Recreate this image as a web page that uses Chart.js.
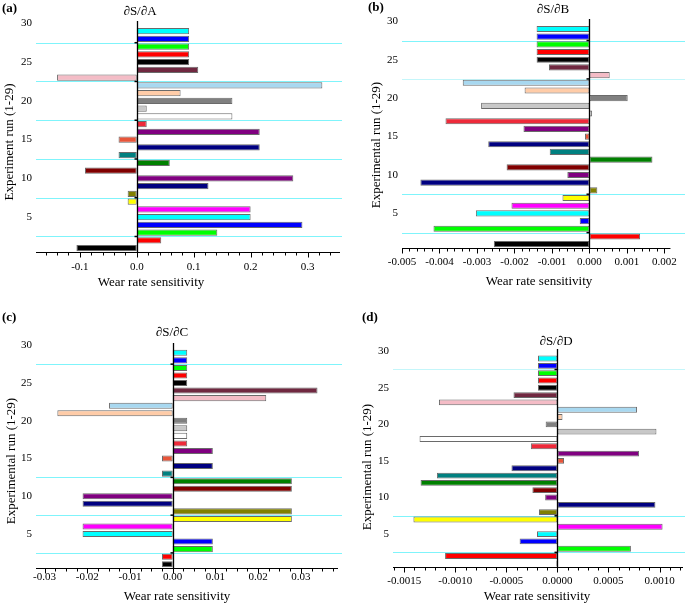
<!DOCTYPE html>
<html><head><meta charset="utf-8">
<script src="https://cdn.jsdelivr.net/npm/chart.js@4/dist/chart.umd.min.js"></script>
<style>
html,body{margin:0;padding:0;background:#fff}
body{width:685px;height:607px;position:relative;overflow:hidden}
.p{position:absolute}
</style></head><body>
<div class="p" style="left:0;top:0;width:342px;height:303px"><canvas id="ca"></canvas></div>
<div class="p" style="left:343px;top:0;width:342px;height:303px"><canvas id="cb"></canvas></div>
<div class="p" style="left:0;top:303px;width:342px;height:304px"><canvas id="cc"></canvas></div>
<div class="p" style="left:343px;top:303px;width:342px;height:304px"><canvas id="cd"></canvas></div>
<script>
// ---- data ----
const runs = [1,2,3,4,5,6,7,8,9,10,11,12,13,14,15,16,17,18,19,20,21,22,23,24,25,26,27,28,29];
const sensA = [-0.106,0.043,0.1415,0.291,0.200,0.200,-0.016,-0.016,0.126,0.275,-0.091,0.058,-0.032,0.216,-0.032,0.216,0.0175,0.168,0.0175,0.168,0.077,0.326,-0.140,0.108,0.092,0.092,0.092,0.092,0.092];
const sensB = [-0.00255,0.00135,-0.00416,-0.00026,-0.00303,-0.00208,-0.00072,0.00021,-0.00451,-0.00059,-0.00221,0.00168,-0.00106,-0.00270,-0.00012,-0.00176,-0.00384,0.00007,-0.00289,0.00102,-0.00173,-0.00338,0.00054,-0.00108,-0.00141,-0.00141,-0.00141,-0.00141,-0.00141];
const sensC = [-0.0025,-0.0025,0.0094,0.0094,-0.0211,-0.0211,0.0279,0.0279,-0.0211,-0.0211,0.0279,0.0279,-0.0025,0.0094,-0.0025,0.0094,0.0034,0.0034,0.0034,0.0034,-0.0270,-0.0149,0.0219,0.0339,0.0034,0.0034,0.0034,0.0034,0.0034];
const sensD = [-0.00001,-0.00110,0.00072,-0.00037,-0.00020,0.00103,-0.00141,-0.00018,0.00096,-0.00012,-0.000245,-0.00134,-0.00118,-0.00045,0.000065,0.00080,-0.00026,-0.00135,0.00097,-0.000115,0.00005,0.00078,-0.00116,-0.00043,-0.00019,-0.00019,-0.00019,-0.00019,-0.00019];
const runColors = ['#000000','#ff0000','#00ff00','#0000ff','#00ffff','#ff00ff','#ffff00','#808000','#000080','#800080','#800000','#008000','#008080','#000080','#e8553a','#800080','#ee2a3a','#ffffff','#c8c8c8','#808080','#ffcca8','#a8d8f0','#f4bcc6','#702840','#000000','#ff0000','#00ff00','#0000ff','#00ffff'];
const yTickStep = 5;
const panelTitles = ['\u2202S/\u2202A','\u2202S/\u2202B','\u2202S/\u2202C','\u2202S/\u2202D'];
const panelLetters = ['(a)','(b)','(c)','(d)'];
const yTitles = ['Experiment run (1-29)','Experimental run (1-29)','Experimental run (1-29)','Experimental run (1-29)'];
const xTitle = 'Wear rate sensitivity';
const separatorsA = [2.5,7.5,12.5,17.5,22.5,27.5];
const separatorsB = [2.5,7.5,22.5,27.5];
const separatorsC = [2.5,7.5,12.5,27.5];
const separatorsD = [2.5,7.5,27.5];

// ---- layout / style ----
const FONT = "'Liberation Serif','Times New Roman',serif";
const panels = [
  {id:'ca', data:sensA, seps:separatorsA, faint:[], xmin:-0.177, xmax:0.357, major:0.1, minor:0.02, dec:1,
   yw:36, pr:2, pt:21, xh:50, tp:9, ymin:0.5, ymax:30.3,
   letter:[2,9], title:[140,12], ytitle:[10,142], xtitle:[151,283]},
  {id:'cb', data:sensB, seps:separatorsB, faint:[22.5], xmin:-0.005, xmax:0.00216, major:0.001, minor:0.0002, dec:3,
   yw:59, pr:8, pt:19, xh:54, tp:8, ymin:0.5, ymax:30.3,
   letter:[25,8], title:[210,10], ytitle:[34,145], xtitle:[196,282]},
  {id:'cc', data:sensC, seps:separatorsC, faint:[], xmin:-0.032, xmax:0.0387, major:0.01, minor:0.0025, dec:2,
   yw:36, pr:4, pt:40, xh:38, tp:3, ymin:0.5, ymax:30.3,
   letter:[2,15], title:[172,30], ytitle:[12,158], xtitle:[177,294]},
  {id:'cd', data:sensD, seps:separatorsD, faint:[27.5], xmin:-0.00161, xmax:0.00123, major:0.0005, minor:0.0001, dec:4,
   yw:50, pr:2, pt:46, xh:39, tp:8, ymin:0.5, ymax:30.3,
   letter:[19,15], title:[213,39], ytitle:[25,164], xtitle:[194,294]}
];

const decor = {
  id:'decor',
  beforeDatasetsDraw(chart, args, o){
    const {ctx, chartArea:a, scales:{y}} = chart;
    ctx.save();
    ctx.lineWidth = 1;
    o.seps.forEach(v=>{
      const py = Math.round(y.getPixelForValue(v)) + 0.5;
      ctx.strokeStyle = o.faint.includes(v) ? '#c4f6fa' : '#7ff4fb';
      ctx.beginPath(); ctx.moveTo(a.left, py); ctx.lineTo(chart.width, py); ctx.stroke();
    });
    ctx.restore();
  },
  afterDatasetsDraw(chart, args, o){
    const {ctx, chartArea:a, scales:{x,y}} = chart;
    ctx.save();
    ctx.strokeStyle = '#000';
    const px = Math.round(x.getPixelForValue(0)) + 0.5;
    ctx.lineWidth = 1.3;
    ctx.beginPath(); ctx.moveTo(px, a.top); ctx.lineTo(px, a.bottom); ctx.stroke();
    ctx.lineWidth = 1.5;
    o.seps.forEach(v=>{
      const py = y.getPixelForValue(v);
      ctx.beginPath(); ctx.moveTo(px-3, py); ctx.lineTo(px, py); ctx.stroke();
    });
    const by = Math.round(a.bottom) + 0.5;
    ctx.lineWidth = 1.2;
    ctx.beginPath(); ctx.moveTo(a.left, by); ctx.lineTo(a.right, by); ctx.stroke();
    ctx.lineWidth = 1;
    const ratio = Math.round(o.major / o.minor);
    const k0 = Math.ceil(x.min / o.minor - 1e-6), k1 = Math.floor(x.max / o.minor + 1e-6);
    for (let k = k0; k <= k1; k++) {
      const tx = Math.round(x.getPixelForValue(k * o.minor)) + 0.5;
      const len = (k % ratio === 0) ? 5 : 3;
      ctx.beginPath(); ctx.moveTo(tx, by); ctx.lineTo(tx, by + len); ctx.stroke();
    }
    ctx.restore();
  },
  afterDraw(chart, args, o){
    const ctx = chart.ctx;
    ctx.save();
    ctx.fillStyle = '#000';
    ctx.textBaseline = 'middle';
    ctx.font = "bold 13px " + FONT;
    ctx.textAlign = 'left';
    ctx.fillText(o.letter, o.pos.letter[0], o.pos.letter[1]);
    ctx.font = "13px " + FONT;
    ctx.textAlign = 'center';
    ctx.fillText(o.title, o.pos.title[0], o.pos.title[1]);
    ctx.fillText(o.xtitle, o.pos.xtitle[0], o.pos.xtitle[1]);
    ctx.translate(o.pos.ytitle[0], o.pos.ytitle[1]);
    ctx.rotate(-Math.PI/2);
    ctx.fillText(o.ytitle, 0, 0);
    ctx.restore();
  }
};

panels.forEach((P, i)=>{
  new Chart(document.getElementById(P.id), {
    type:'bar',
    data:{
      datasets:[{
        data: runs.map((r, j)=>({x:P.data[j], y:r})),
        backgroundColor: runColors,
        borderColor:'#6a6a6a',
        borderWidth:1,
        borderSkipped:false,
        categoryPercentage:1,
        barPercentage:0.8
      }]
    },
    options:{
      indexAxis:'y',
      responsive:true,
      maintainAspectRatio:false,
      animation:false,
      layout:{padding:{left:0, right:P.pr, top:P.pt, bottom:1}},
      plugins:{
        legend:{display:false},
        tooltip:{enabled:false},
        title:{display:false},
        decor:{seps:P.seps, faint:P.faint, letter:panelLetters[i], title:panelTitles[i], ytitle:yTitles[i], xtitle:xTitle, pos:P, major:P.major, minor:P.minor}
      },
      scales:{
        x:{
          type:'linear', min:P.xmin, max:P.xmax, offset:false,
          border:{display:false},
          grid:{display:false, drawTicks:false, offset:false},
          ticks:{stepSize:P.major, includeBounds:false, padding:P.tp, maxRotation:0, autoSkip:false, color:'#000',
                 font:{family:FONT, size:11}, callback:v=>Number(v).toFixed(P.dec)},
          afterFit(s){ s.height = P.xh; }
        },
        y:{
          type:'linear', min:P.ymin, max:P.ymax, position:'left', offset:false,
          border:{display:false},
          grid:{display:false, drawTicks:false, offset:false},
          ticks:{stepSize:yTickStep, includeBounds:false, padding:4, color:'#000',
                 font:{family:FONT, size:11}, callback:v=>String(v)},
          afterFit(s){ s.width = P.yw; }
        }
      }
    },
    plugins:[decor]
  });
});
</script>
</body></html>
